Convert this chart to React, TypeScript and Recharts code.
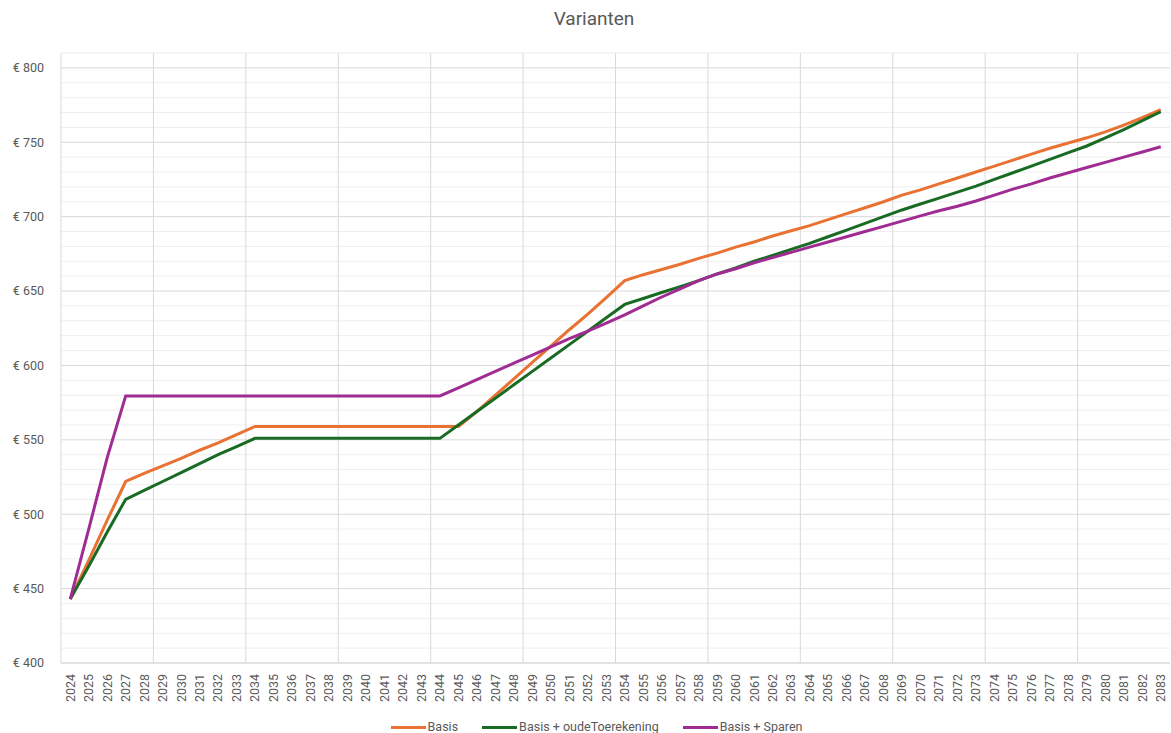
import { LineChart, Line, XAxis, YAxis, CartesianGrid, ReferenceLine } from "recharts";

// Categories: every year from 2024 to 2083
const YEARS = Array.from({ length: 60 }, (_, i) => String(2024 + i));

// Series values
const BASIS = [
  443, 469, 496, 522, 527.5, 532.5, 537.5, 543, 548, 553.5,
  559, 559, 559, 559, 559, 559, 559, 559, 559, 559,
  559, 559, 569, 580, 591, 602, 613, 624, 634.5, 645.5,
  657, 661, 664.5, 668, 672, 675.5, 679.5, 683, 687, 690.5,
  694, 698, 702, 706, 710, 714.5, 718, 722, 726, 730,
  734, 738, 742, 746, 749.5, 753, 757, 761.5, 766.5, 772,
];

const BASIS_OUDE = [
  443, 465, 488, 510, 516, 522, 528, 534, 540, 545.5,
  551, 551, 551, 551, 551, 551, 551, 551, 551, 551,
  551, 560, 569, 578, 587, 596, 605, 614, 623, 632,
  641, 645, 649, 653, 657, 661.5, 665.5, 670, 674, 678,
  682, 686.5, 691, 695.5, 700, 704.5, 708.5, 712.5, 716.5, 720.5,
  725, 729.5, 734, 738.5, 743, 747.5, 753, 758.5, 764.5, 770.5,
];

const BASIS_SPAREN = [
  443, 490, 538, 579.5, 579.5, 579.5, 579.5, 579.5, 579.5, 579.5,
  579.5, 579.5, 579.5, 579.5, 579.5, 579.5, 579.5, 579.5, 579.5, 579.5,
  579.5, 585, 590.5, 596, 601.5, 607, 612.5, 618, 623, 628.5,
  634, 640, 646, 651.5, 657, 661.5, 665, 669, 672.5, 676,
  679.5, 683, 686.5, 690, 693.5, 697, 700.5, 704, 707, 710.5,
  714.5, 718.5, 722, 726, 729.5, 733, 736.5, 740, 743.5, 747,
];

// Axis ticks
const MAJOR_TICKS = [400, 450, 500, 550, 600, 650, 700, 750, 800];
const MINOR_TICKS = [
  410, 420, 430, 440, 460, 470, 480, 490, 510, 520, 530, 540, 560, 570, 580, 590,
  610, 620, 630, 640, 660, 670, 680, 690, 710, 720, 730, 740, 760, 770, 780, 790, 810,
];
// Category gridlines every 5 years (drawn at the start of the band)
const GRID_YEARS = YEARS.filter((_, i) => i % 5 === 0);

const SERIES = [
  { key: "basis", name: "Basis", color: "#E97132", values: BASIS },
  { key: "oude", name: "Basis + oudeToerekening", color: "#196B24", values: BASIS_OUDE },
  { key: "sparen", name: "Basis + Sparen", color: "#A02B93", values: BASIS_SPAREN },
];

const data = YEARS.map((year, i) => ({
  year,
  basis: BASIS[i],
  oude: BASIS_OUDE[i],
  sparen: BASIS_SPAREN[i],
}));

const FONT = "Roboto, 'Liberation Sans', sans-serif";
const TEXT = "#595959";

function YearTick({ x, y, payload }: any) {
  return (
    <text
      x={x}
      y={y}
      dy="0.35em"
      textAnchor="end"
      transform={`rotate(-90, ${x}, ${y})`}
      fill={TEXT}
      fontSize={12.5}
      fontFamily={FONT}
    >
      {payload.value}
    </text>
  );
}

export default function App() {
  return (
    <div
      style={{
        position: "absolute",
        left: 0,
        top: 0,
        width: 1171,
        height: 733,
        background: "#fff",
        fontFamily: FONT,
        overflow: "hidden",
      }}
    >
      <div
        style={{
          position: "absolute",
          left: 0,
          width: 1188,
          top: 7,
          textAlign: "center",
          fontSize: 19,
          color: TEXT,
        }}
      >
        Varianten
      </div>

      <LineChart
        width={1171}
        height={733}
        data={data}
        margin={{ top: 53, right: 1, bottom: 0, left: 0 }}
      >
        <CartesianGrid horizontal={false} vertical={false} />
        {MINOR_TICKS.map((v) => (
          <ReferenceLine key={`mn-${v}`} y={v} stroke="#eeeeee" strokeWidth={1} />
        ))}
        {MAJOR_TICKS.map((v) => (
          <ReferenceLine key={`mj-${v}`} y={v} stroke="#d9d9d9" strokeWidth={1} />
        ))}
        {GRID_YEARS.map((yr) => (
          <ReferenceLine key={`vx-${yr}`} x={yr} position="start" stroke="#d9d9d9" strokeWidth={1} />
        ))}
        <XAxis
          dataKey="year"
          scale="band"
          interval={0}
          height={70}
          tickSize={0}
          tickMargin={11}
          axisLine={{ stroke: "#d9d9d9" }}
          tick={<YearTick />}
        />
        <YAxis
          type="number"
          domain={[400, 810]}
          ticks={MAJOR_TICKS}
          width={61}
          tickSize={0}
          tickMargin={17}
          axisLine={false}
          tickLine={false}
          tick={{ fill: TEXT, fontSize: 12.5, fontFamily: FONT }}
          tickFormatter={(v) => `€ ${v}`}
        />
        {SERIES.map((s) => (
          <Line
            key={s.key}
            type="linear"
            dataKey={s.key}
            name={s.name}
            stroke={s.color}
            strokeWidth={3}
            dot={false}
            activeDot={false}
            isAnimationActive={false}
          />
        ))}
      </LineChart>

      <div
        style={{
          position: "absolute",
          left: 0,
          width: 1193,
          top: 719,
          display: "flex",
          justifyContent: "center",
          gap: 24,
          fontSize: 12.5,
          color: TEXT,
          lineHeight: "16px",
        }}
      >
        {SERIES.map((s) => (
          <div key={s.key} style={{ display: "flex", alignItems: "center", gap: 2 }}>
            <span style={{ display: "inline-block", width: 35, height: 3, background: s.color }} />
            <span>{s.name}</span>
          </div>
        ))}
      </div>
    </div>
  );
}
